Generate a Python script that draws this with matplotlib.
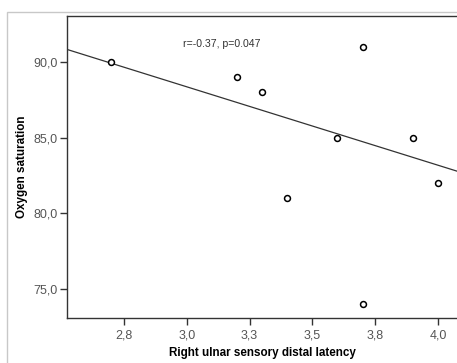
import matplotlib.pyplot as plt
import numpy as np
from matplotlib.patches import Rectangle

plt.rcParams['font.family'] = ['Liberation Sans', 'DejaVu Sans']

# values
latency = [2.7, 3.2, 3.3, 3.4, 3.6, 3.7, 3.7, 3.9, 4.0]
saturation = [90, 89, 88, 81, 85, 91, 74, 85, 82]
fit_intercept = 103.9
fit_slope = -5.18
xticks = [2.75, 3.0, 3.25, 3.5, 3.75, 4.0]
xtick_labels = ["2,8", "3,0", "3,3", "3,5", "3,8", "4,0"]
yticks = [75, 80, 85, 90]
ytick_labels = ["75,0", "80,0", "85,0", "90,0"]

W, H = 457, 363
fig = plt.figure(figsize=(W / 100, H / 100), dpi=100)
fig.patch.set_facecolor("white")

# light outer frame
fig.patches.append(Rectangle((7 / W, -0.1), 1.2, 1 - 12 / H + 0.1,
                             transform=fig.transFigure, fill=False,
                             edgecolor="#c8c8c8", linewidth=1.0))

x0, x1 = 67 / W, 466 / W
y0, y1 = 1 - 318 / H, 1 - 16 / H
ax = fig.add_axes([x0, y0, x1 - x0, y1 - y0])

ax.set_xlim(2.523, 4.112)
ax.set_ylim(73.08, 93.04)

xs = np.array(ax.get_xlim())
ax.plot(xs, fit_intercept + fit_slope * xs, color="#333333", linewidth=0.9)
ax.scatter(latency, saturation, s=18, facecolors="white", edgecolors="black",
           linewidths=1.1, zorder=3)

ax.text(3.14, 91.2, "r=-0.37, p=0.047", fontsize=7.6, color="#333333",
        ha="center", va="center")

ax.set_xticks(xticks)
ax.set_xticklabels(xtick_labels)
ax.set_yticks(yticks)
ax.set_yticklabels(ytick_labels)
ax.tick_params(direction="out", length=5, width=1, color="#333333",
               labelcolor="#555555", labelsize=9)
ax.tick_params(axis="y", pad=1.5)

for s in ax.spines.values():
    s.set_color("#333333")
    s.set_linewidth(1.0)

ax.set_xlabel("Right ulnar sensory distal latency", fontsize=8.4, fontweight="bold")
ax.set_ylabel("Oxygen saturation", fontsize=8.4, fontweight="bold")
ax.xaxis.set_label_coords((262 / W - x0) / (x1 - x0), (1 - 347 / H - y0) / (y1 - y0))
ax.yaxis.set_label_coords((28 / W - x0) / (x1 - x0), 0.5)

fig.savefig("out.png", dpi=100)
